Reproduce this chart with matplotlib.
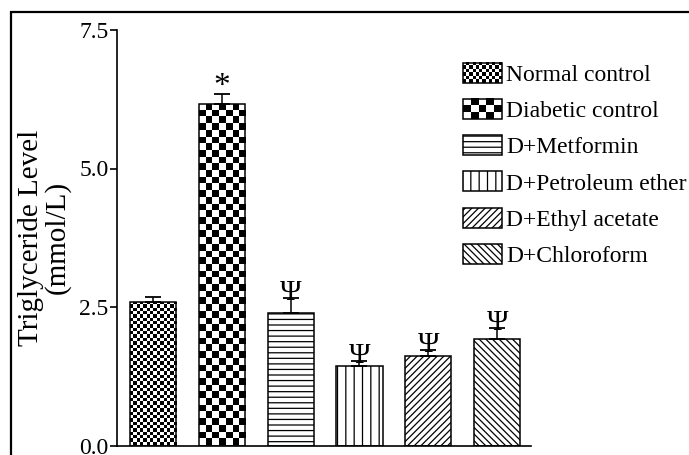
import numpy as np
import matplotlib
matplotlib.use('Agg')
import matplotlib.pyplot as plt
from matplotlib.patches import Rectangle
from matplotlib.legend_handler import HandlerPatch
from matplotlib.image import BboxImage
from matplotlib.transforms import Bbox, TransformedBbox
from matplotlib.colors import Normalize

groups = ['Normal control', 'Diabetic control', 'D+Metformin',
          'D+Petroleum ether', 'D+Ethyl acetate', 'D+Chloroform']
tg_mean = [2.59, 6.17, 2.39, 1.43, 1.62, 1.92]
tg_sem = [0.09, 0.18, 0.28, 0.09, 0.10, 0.20]
marks = ['', '*', 'Ψ', 'Ψ', 'Ψ', 'Ψ']
yticks = [0.0, 2.5, 5.0, 7.5]

plt.rcParams['font.family'] = ['Liberation Serif', 'DejaVu Serif']
plt.rcParams['hatch.linewidth'] = 0.9

DPI = 100
fig = plt.figure(figsize=(6.89, 4.55), dpi=DPI)
ax = fig.add_axes([117 / 689, 1 - 445.5 / 455, 414 / 689, (445.5 - 30) / 455])

# outer frame of the figure (only top and left are visible)
fig.add_artist(Rectangle((11 / 689, -0.5), 2, 1.5 - 12 / 455, transform=fig.transFigure,
                         fill=False, edgecolor='black', lw=1.6))


def checker(nx, ny):
    i, j = np.indices((ny, nx))
    return ((i + j) % 2).astype(float)


# style per bar: (hatch, checker cell size in px or None)
styles = [(None, 3.3), (None, 6.7), ('---', None), ('||', None),
          ('/////', None), ('\\\\\\\\\\', None)]

x = np.arange(len(groups))
bars = []
for i in range(len(groups)):
    hatch, cell = styles[i]
    b = ax.bar(x[i], tg_mean[i], width=0.67, facecolor='white' if cell is None else 'none',
               edgecolor='black', linewidth=1.1, hatch=hatch, zorder=2, label=groups[i])
    bars.append(b.patches[0])

ax.set_xlim(-0.52, 5.49)
ax.set_ylim(0, 7.5)

for i, p in enumerate(bars):
    cell = styles[i][1]
    if cell is None:
        continue
    x0, y0, w, h = p.get_x(), p.get_y(), p.get_width(), p.get_height()
    px0, py0 = ax.transData.transform((x0, y0))
    px1, py1 = ax.transData.transform((x0 + w, y0 + h))
    nx = max(1, round((px1 - px0) / cell))
    ny = max(1, round((py1 - py0) / cell))
    im = ax.imshow(checker(nx, ny), cmap='gray_r', extent=(x0, x0 + w, y0, y0 + h),
                   origin='lower', interpolation='nearest', aspect='auto', zorder=1.5,
                   vmin=0, vmax=1)
    im.set_clip_path(p)

ax.set_xlim(-0.52, 5.49)
ax.set_ylim(0, 7.5)

ax.errorbar(x, tg_mean, yerr=[np.zeros(len(x)), tg_sem], fmt='none', ecolor='black',
            elinewidth=1.1, capsize=5.8, capthick=1.3, zorder=3)

for i, m in enumerate(marks):
    if not m:
        continue
    top = tg_mean[i] + tg_sem[i]
    if m == '*':
        ax.annotate(m, xy=(x[i], top), xytext=(0, -1), textcoords='offset points',
                    ha='center', va='baseline', fontsize=24)
    else:
        ax.annotate(m, xy=(x[i], top), xytext=(0, -1.5), textcoords='offset points',
                    ha='center', va='baseline', fontsize=21)

ax.spines['top'].set_visible(False)
ax.spines['right'].set_visible(False)
for s in ['left', 'bottom']:
    ax.spines[s].set_linewidth(1.2)
ax.set_xticks([])
ax.set_yticks(yticks)
ax.set_yticklabels([f'{v:.1f}' for v in yticks])
ax.tick_params(axis='y', direction='out', length=5, width=1.2, labelsize=17, pad=1)
ax.set_ylabel('Triglyceride Level\n(mmol/L)', fontsize=21, linespacing=1.0, labelpad=6)


class CheckerHandler(HandlerPatch):
    def __init__(self, cell_px):
        super().__init__()
        self.cell_px = cell_px

    def create_artists(self, legend, orig_handle, xdescent, ydescent, width, height,
                       fontsize, trans):
        cell_pt = self.cell_px * 72 / DPI
        nx = max(1, round(width / cell_pt))
        ny = max(1, round(height / cell_pt))
        bb = TransformedBbox(Bbox.from_bounds(-xdescent, -ydescent, width, height), trans)
        img = BboxImage(bb, cmap='gray_r', norm=Normalize(0, 1), interpolation='nearest')
        img.set_data(checker(nx, ny))
        rect = Rectangle((-xdescent, -ydescent), width, height, facecolor='none',
                         edgecolor='black', lw=1.1, transform=trans)
        return [img, rect]


hmap = {bars[0]: CheckerHandler(3.3), bars[1]: CheckerHandler(7.6)}
leg = fig.legend(bars, groups, handler_map=hmap, loc='upper left',
                 bbox_to_anchor=(463 / 689, 1 - 63 / 455), frameon=False, fontsize=17,
                 borderpad=0, borderaxespad=0, handlelength=1.65, handleheight=0.93,
                 handletextpad=0.17, labelspacing=0.55)

fig.savefig('out.png', dpi=DPI)
